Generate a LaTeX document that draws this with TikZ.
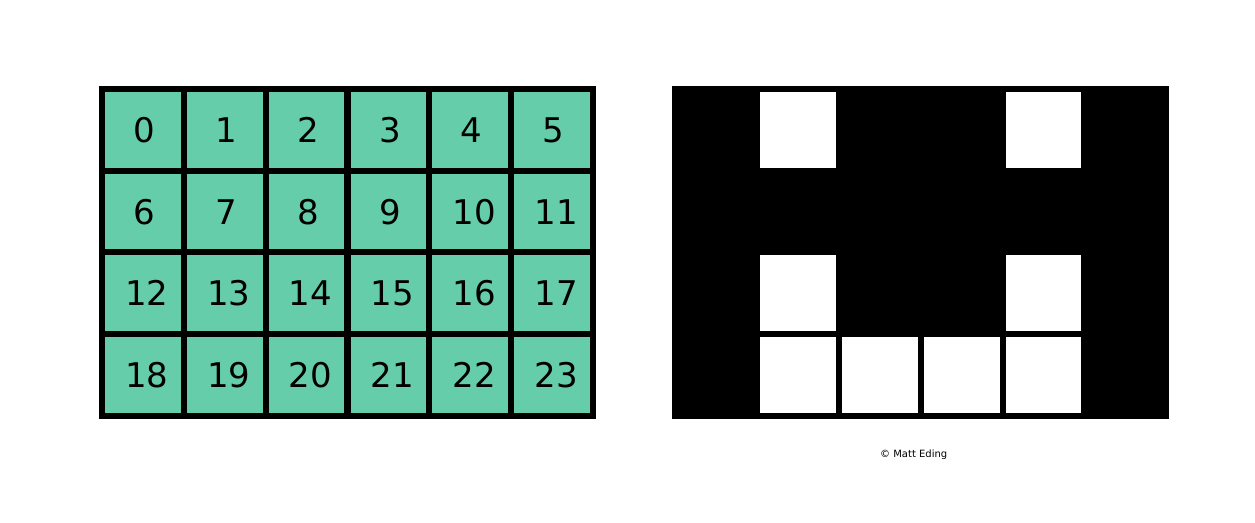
\documentclass[tikz,border=0pt]{standalone}
\usepackage{fontspec}
\setmainfont{DejaVu Sans}
\definecolor{aqua}{HTML}{66CDAA}
\begin{document}
\begin{tikzpicture}[x=1pt,y=-1pt,
  cellbox/.style={draw=black,line width=6pt,minimum size=81.8pt,inner sep=0pt,outer sep=0pt},
  numcell/.style={cellbox,fill=aqua},
  numtext/.style={font=\fontsize{34}{34}\selectfont,inner sep=0pt},
  blackcell/.style={cellbox,fill=black},
  whitecell/.style={cellbox,fill=white},
  credit/.style={font=\fontsize{10}{12}\selectfont,inner sep=0pt,anchor=base}]
\useasboundingbox (0,0) rectangle (1255,522);
% left grid
\foreach \r in {0,...,3}{
  \foreach \c in {0,...,5}{
    \pgfmathtruncatemacro\n{6*\r+\c}
    \pgfmathsetmacro\dx{ifthenelse(\n>9,4,1.5)}
    \node[numcell] (L\n) at ({102+81.83*(\c+0.5)},{89+81.75*(\r+0.5)}) {};
    \node[numtext] (T\n) at ([xshift=\dx pt]L\n.center) {\n};
  }
}
% right grid: black cells
\foreach \r in {0,...,3}{
  \foreach \c in {0,...,5}{
    \node[blackcell] (R\r\c) at ({675.3+81.83*(\c+0.5)},{89+81.75*(\r+0.5)}) {};
  }
}
% white cells
\foreach \r/\c in {0/1,0/4,2/1,2/4,3/1,3/2,3/3,3/4}{
  \node[whitecell] (W\r\c) at ({675.3+81.83*(\c+0.5)},{89+81.75*(\r+0.5)}) {};
}
\node[credit] (copy) at (913.7,457) {© Matt Eding};
\end{tikzpicture}
\end{document}
